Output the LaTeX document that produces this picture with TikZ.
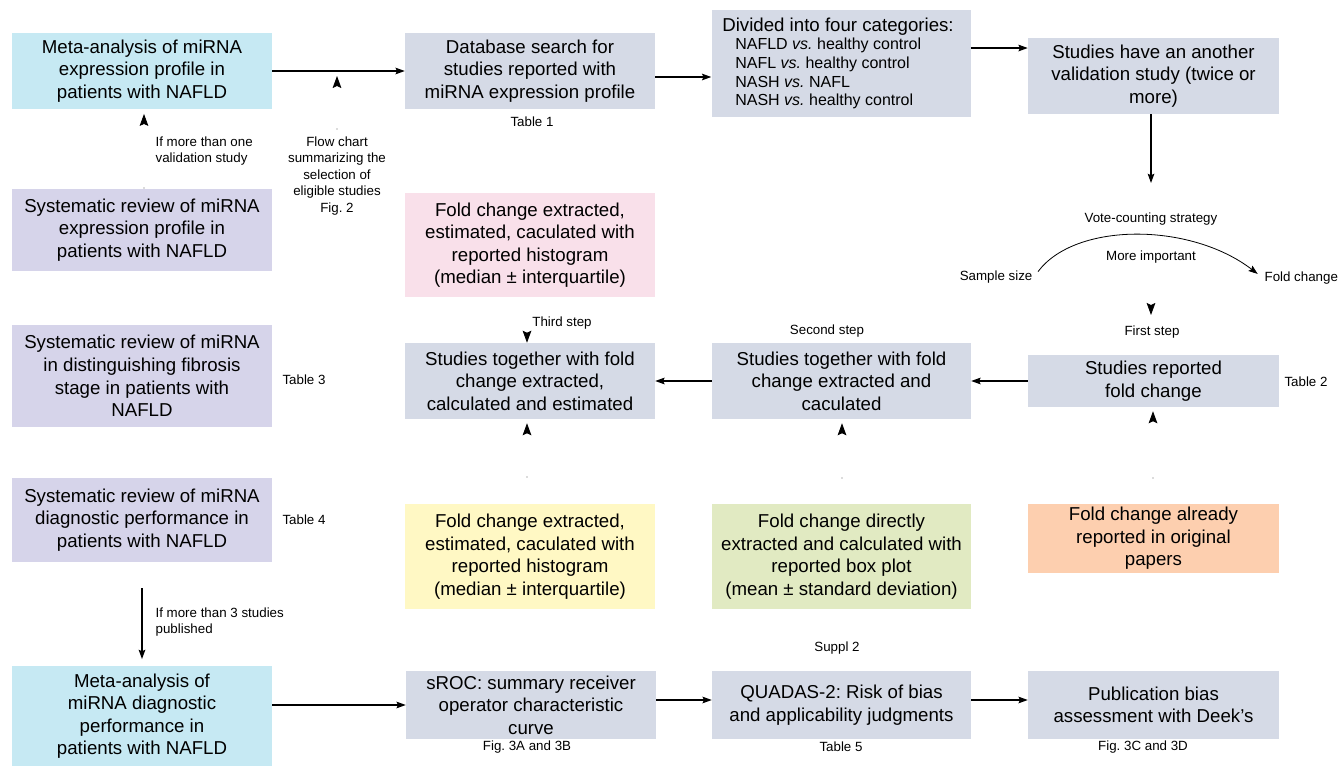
\documentclass[tikz,border=0pt]{standalone}
\usepackage{fontspec}
\setmainfont{Liberation Sans}
\usetikzlibrary{positioning, arrows.meta}
\frenchspacing

\definecolor{cyanbox}{HTML}{C6E9F3}
\definecolor{lavbox}{HTML}{D6D4EA}
\definecolor{greybox}{HTML}{D5DAE6}
\definecolor{pinkbox}{HTML}{F9E0EA}
\definecolor{yellowbox}{HTML}{FFF8C4}
\definecolor{greenbox}{HTML}{E1EAC2}
\definecolor{orangebox}{HTML}{FDCFAF}

\begin{document}
\begin{tikzpicture}[
                x=0.75pt, y=-0.75pt,
                >={Stealth[length=7pt, width=5pt, inset=1.2pt]},
                box/.style={rectangle, align=center, inner sep=0pt, font=\fontsize{14}{16.9}\selectfont},
                colA/.style={box, minimum width=195pt},
                colB/.style={box, minimum width=187.5pt},
                colC/.style={box, minimum width=194.25pt},
                colD/.style={box, minimum width=188.25pt},
                note/.style={align=center, inner sep=1pt, font=\fontsize{10}{12.4}\selectfont},
                flow/.style={->, line width=0.8pt},
                ghost/.style={-{Stealth[length=9pt, width=6.5pt, inset=1.5pt, black, line width=0.6pt]}, white, line width=0.4pt},
                dot/.style={circle, fill=black!60, inner sep=0pt, minimum size=0.8pt}
            ]
            \useasboundingbox (0,0) rectangle (1339,766);

            % Nodes (left column)
            \node[colA, fill=cyanbox, minimum height=57pt] (meta1) at (142,71) {Meta-analysis of miRNA\\expression profile in\\patients with NAFLD};
            \node[colA, fill=lavbox, minimum height=61.5pt] (sys1) at (142,230) {Systematic review of miRNA\\expression profile in\\patients with NAFLD};
            \node[colA, fill=lavbox, minimum height=76.5pt] (sys2) at (142,376) {Systematic review of miRNA\\in distinguishing fibrosis\\stage in patients with\\NAFLD};
            \node[colA, fill=lavbox, minimum height=63pt] (sys3) at (142,520) {Systematic review of miRNA\\diagnostic performance in\\patients with NAFLD};
            \node[colA, fill=cyanbox, minimum height=75pt] (meta2) at (142,716) {Meta-analysis of\\miRNA diagnostic\\performance in\\patients with NAFLD};

            % Nodes (second column)
            \node[colB, fill=greybox, minimum height=57pt] (search) at (530,71) {Database search for\\studies reported with\\miRNA expression profile};
            \node[colB, fill=pinkbox, minimum height=78pt] (histo1) at (530,245) {Fold change extracted,\\estimated, caculated with\\reported histogram\\(median ± interquartile)};
            \node[colB, fill=greybox, minimum height=57pt] (third) at (530,381) {Studies together with fold\\change extracted,\\calculated and estimated};
            \node[colB, fill=yellowbox, minimum height=78.75pt] (histo2) at (530,556.5) {Fold change extracted,\\estimated, caculated with\\reported histogram\\(median ± interquartile)};
            \node[colB, fill=greybox, minimum height=51pt] (sroc) at (531,705) {sROC: summary receiver\\operator characteristic\\curve};

            % Nodes (third column)
            \node[colC, fill=greybox, minimum height=80.25pt] (categ) at (841,63.5) {\begin{minipage}{178pt}
                \fontsize{14}{16.9}\selectfont Divided into four categories:\par
                \fontsize{12}{14}\selectfont
                \hspace*{9.75pt}NAFLD \textit{vs.} healthy control\par
                \hspace*{9.75pt}NAFL \textit{vs.} healthy control\par
                \hspace*{9.75pt}NASH \textit{vs.} NAFL\par
                \hspace*{9.75pt}NASH \textit{vs.} healthy control
                \end{minipage}};
            \node[colC, fill=greybox, minimum height=57pt] (second) at (841.5,381) {Studies together with fold\\change extracted and\\caculated};
            \node[colC, fill=greenbox, minimum height=78.75pt] (boxplot) at (841.5,556.5) {Fold change directly\\extracted and calculated with\\reported box plot\\(mean ± standard deviation)};
            \node[colC, fill=greybox, minimum height=51pt] (quadas) at (841.5,705) {QUADAS-2: Risk of bias\\and applicability judgments};

            % Nodes (right column)
            \node[colD, fill=greybox, minimum height=57pt] (valid) at (1153.5,76) {Studies have an another\\validation study (twice or\\more)};
            \node[colD, fill=greybox, minimum height=39pt] (first) at (1153.5,381) {Studies reported\\fold change};
            \node[colD, fill=orangebox, minimum height=51.75pt] (orig) at (1153.5,538.5) {Fold change already\\reported in original\\papers};
            \node[colD, fill=greybox, minimum height=51pt] (pubbias) at (1153.5,705) {Publication bias\\assessment with Deek’s};

            % Vote counting
            \node[note, anchor=east] (ssize) at (1034,277) {Sample size};
            \node[note, anchor=west] (fchange) at (1263,278) {Fold change};
            \coordinate (vdown) at (1151,183);
            \coordinate (vtop) at (1151,288);
            \coordinate (vbot) at (1151,315);
            \coordinate (flowtip) at (337,76);

            % Dots
            \node[dot] (d1) at (144,188) {};
            \node[dot] (d2) at (337,129) {};
            \node[dot] (d3) at (527,477) {};
            \node[dot] (d4) at (842,478) {};
            \node[dot] (d5) at (1153,478) {};

            % Tips without shaft
            \draw[ghost, shorten >=3.5pt] (d1) -- (meta1.south -| d1);
            \draw[ghost] (d2) -- (flowtip);
            \draw[ghost] (vtop) -- (vbot);
            \draw[ghost] (histo1.south -| d3) -- (third.north -| d3);
            \draw[ghost, shorten >=3pt] (d3) -- (third.south -| d3);
            \draw[ghost, shorten >=3pt] (d4) -- (second.south -| d4);
            \draw[ghost, shorten >=3pt] (d5) -- (first.south -| d5);

            % Labels
            \node[note] (tab1) at (532,122) {Table 1};
            \node[note] (flowlab) at (337,176) {Flow chart\\summarizing the\\selection of\\eligible studies\\Fig. 2};
            \node[note, align=left, anchor=west] (onelab) at (154,151) {If more than one\\validation study};
            \node[note] (tab3) at (304,380) {Table 3};
            \node[note] (tab4) at (304,520) {Table 4};
            \node[note] (tab2) at (1306,382) {Table 2};
            \node[note] (vote) at (1151,219) {Vote-counting strategy};
            \node[note] (moreimp) at (1151,257) {More important};
            \node[note] (step1) at (1152,332) {First step};
            \node[note] (step2) at (827,331) {Second step};
            \node[note] (step3) at (562,323) {Third step};
            \node[note, align=left, anchor=west] (threelab) at (154,622) {If more than 3 studies\\published};
            \node[note] (suppl) at (837,648) {Suppl 2};
            \node[note] (fig3ab) at (527,747) {Fig. 3A and 3B};
            \node[note] (tab5) at (841,747) {Table 5};
            \node[note] (fig3cd) at (1143,747) {Fig. 3C and 3D};

            % Edges
            \draw[flow] (meta1) -- (search);
            \draw[flow] ([yshift=-4.5pt]search.east) -- ([yshift=-4.5pt]search.east -| categ.west);
            \draw[flow] ([yshift=11.6pt]categ.east) -- ([yshift=11.6pt]categ.east -| valid.west);
            \draw[flow] (valid.south -| vdown) -- (vdown);
            \draw[->, line width=0.6pt, shorten <=5pt, shorten >=5pt] (ssize.east) .. controls (1075,222) and (1190,222) .. (fchange.west);
            \draw[flow] (first.west) -- (first.west -| second.east);
            \draw[flow] (second.west) -- (second.west -| third.east);
            \draw[flow, shorten >=5pt] ([yshift=-19.5pt]sys3.south) -- (meta2.north);
            \draw[flow] ([yshift=8.25pt]meta2.east) -- ([yshift=8.25pt]meta2.east -| sroc.west);
            \draw[flow] ([yshift=3.75pt]sroc.east) -- ([yshift=3.75pt]sroc.east -| quadas.west);
            \draw[flow] ([yshift=3.75pt]quadas.east) -- ([yshift=3.75pt]quadas.east -| pubbias.west);
\end{tikzpicture}
\end{document}
